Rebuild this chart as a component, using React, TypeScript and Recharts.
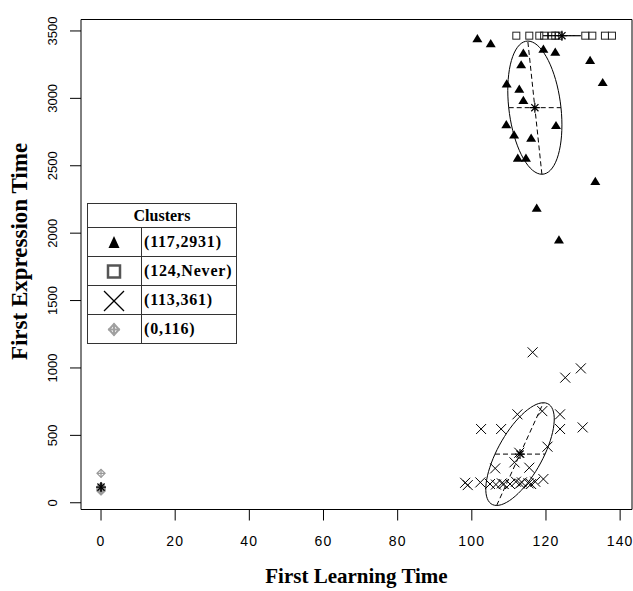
import React from 'react';
import {
  ScatterChart, Scatter, XAxis, YAxis, ReferenceArea, ReferenceLine, Legend,
} from 'recharts';

const xTicks = [0, 20, 40, 60, 80, 100, 120, 140];
const yTicks = [0, 500, 1000, 1500, 2000, 2500, 3000, 3500];
const xDomain = [-5.4, 143.2];
const yDomain = [-50, 3585];

const clusterLabels = ['(117,2931)', '(124,Never)', '(113,361)', '(0,116)'];

// cluster 1 - triangles
const triX = [101.5, 105.1, 113.9, 119.3, 122.5, 113.3, 131.9, 135.3, 109.4, 112.8,
  113.9, 109.3, 122.7, 111.4, 116.0, 112.4, 114.6, 133.3, 117.5, 123.5];
const triY = [3441, 3404, 3334, 3364, 3342, 3248, 3280, 3116, 3106, 3067,
  2983, 2803, 2797, 2728, 2704, 2555, 2555, 2382, 2184, 1949];

// cluster 2 - never expressed, drawn on the top line
const NEVER = 3465;
const sqX = [112.0, 115.5, 118.2, 119.5, 121.6, 122.5, 123.4, 130.6, 132.5, 135.9, 137.8];

// cluster 3 - crosses
const crossX = [116.4, 129.4, 125.2, 112.3, 119.0, 123.8, 102.5, 107.9, 123.8, 129.9,
  120.4, 112.8, 111.5, 106.3, 115.5, 98.2, 98.9, 102.3, 104.9, 108.1,
  110.3, 111.9, 113.5, 115.3, 117.1, 119.3, 108.6, 116.0, 106.5, 113.0];
const crossY = [1116, 997, 928, 656, 680, 656, 547, 547, 547, 559,
  416, 371, 300, 255, 260, 148, 131, 151, 139, 144,
  139, 156, 151, 144, 156, 176, 139, 139, 135, 142];

// cluster 4 - grey, all at x = 0
const grayX = [0, 0, 0, 0, 0, 0, 0, 0];
const grayY = [218, 120, 112, 105, 100, 95, 90, 88];

// cluster centres and ellipse half-axes (data units)
const centerX = [117, 124.3, 113, 0];
const centerY = [2931, NEVER, 361, 116];
const majorAxes = [[-1.9, 494], [5.1, 0], [6.3, 381], [0, 30]];
const minorAxes = [[7.05, 0], [0, 0], [6.75, 0], [0, 0]];

const toPts = (xs: number[], ys: number[]) => xs.map((x, i) => ({ x, y: ys[i] }));

const ellipse = (i: number) =>
  Array.from({ length: 73 }, (_, k) => {
    const t = (k * Math.PI * 2) / 72;
    return {
      x: centerX[i] + majorAxes[i][0] * Math.cos(t) + minorAxes[i][0] * Math.sin(t),
      y: centerY[i] + majorAxes[i][1] * Math.cos(t) + minorAxes[i][1] * Math.sin(t),
    };
  });

const Tri = ({ cx, cy }: any) => (
  <path d={`M${cx},${cy - 4.8} L${cx + 5},${cy + 3.4} L${cx - 5},${cy + 3.4} Z`} fill="#000" />
);
const Sq = ({ cx, cy }: any) => (
  <rect x={cx - 3.5} y={cy - 3.5} width={7} height={7} fill="none" stroke="#222" strokeWidth={1} />
);
const Cross = ({ cx, cy }: any) => (
  <g stroke="#000" strokeWidth={1}>
    <line x1={cx - 5} y1={cy - 5} x2={cx + 5} y2={cy + 5} />
    <line x1={cx - 5} y1={cy + 5} x2={cx + 5} y2={cy - 5} />
  </g>
);
const Gray = ({ cx, cy }: any) => (
  <g stroke="#9a9a9a" strokeWidth={1.3} fill="none">
    <path d={`M${cx},${cy - 4} L${cx + 4},${cy} L${cx},${cy + 4} L${cx - 4},${cy} Z`} />
    <line x1={cx - 4} y1={cy} x2={cx + 4} y2={cy} />
    <line x1={cx} y1={cy - 4} x2={cx} y2={cy + 4} />
  </g>
);
const Star = ({ cx, cy }: any) => (
  <g stroke="#000" strokeWidth={1.2}>
    <line x1={cx - 5} y1={cy} x2={cx + 5} y2={cy} />
    <line x1={cx} y1={cy - 5} x2={cx} y2={cy + 5} />
    <line x1={cx - 3.6} y1={cy - 3.6} x2={cx + 3.6} y2={cy + 3.6} />
    <line x1={cx - 3.6} y1={cy + 3.6} x2={cx + 3.6} y2={cy - 3.6} />
  </g>
);
const NoDot = () => <g />;

const legendIcons: Record<string, React.ReactNode> = {
  [clusterLabels[0]]: <path d="M26,7 L31.5,19 L20.5,19 Z" fill="#000" />,
  [clusterLabels[1]]: <rect x={20} y={7.5} width={12} height={12} fill="none" stroke="#555" strokeWidth={2.5} />,
  [clusterLabels[2]]: (
    <g stroke="#000" strokeWidth={1.3}>
      <line x1={16} y1={4} x2={36} y2={24} />
      <line x1={16} y1={24} x2={36} y2={4} />
    </g>
  ),
  [clusterLabels[3]]: (
    <g stroke="#a0a0a0" strokeWidth={2} fill="none">
      <path d="M26,8 L31,13.5 L26,19 L21,13.5 Z" />
      <line x1={20} y1={13.5} x2={32} y2={13.5} />
      <line x1={26} y1={7.5} x2={26} y2={19.5} />
    </g>
  ),
};

const cell = {
  border: '1px solid #333',
  padding: 0,
  height: 28,
};

// only the four clusters go in the key, in their plotting order
const renderLegend = ({ payload }: any) => {
  const names = (payload || []).map((p: any) => p.value);
  const rows = clusterLabels.filter((l) => names.includes(l));
  return (
    <table
      style={{
        borderCollapse: 'collapse',
        background: '#fff',
        fontFamily: '"Liberation Serif", "Times New Roman", serif',
        fontWeight: 'bold',
        fontSize: 16,
        color: '#000',
      }}
    >
      <tbody>
        <tr>
          <td colSpan={2} style={{ ...cell, height: 23, textAlign: 'center' }}>Clusters</td>
        </tr>
        {rows.map((name) => (
          <tr key={name}>
            <td style={{ ...cell, width: 53 }}>
              <svg width={53} height={27} style={{ display: 'block' }}>{legendIcons[name]}</svg>
            </td>
            <td style={{ ...cell, width: 92, paddingLeft: 2, letterSpacing: 0.8 }}>{name}</td>
          </tr>
        ))}
      </tbody>
    </table>
  );
};

const XTick = ({ x, y, payload }: any) => (
  <text x={x} y={y} dy="0.71em" textAnchor="middle" fontSize={14} letterSpacing={1.2}
    fontFamily='"Liberation Sans", Arial, sans-serif' fill="#000">
    {payload.value}
  </text>
);

const YTick = ({ x, y, payload }: any) => (
  <text x={x} y={y} transform={`rotate(-90, ${x}, ${y})`} textAnchor="middle" fontSize={13}
    fontFamily='"Liberation Sans", Arial, sans-serif' fill="#000">
    {payload.value}
  </text>
);

const titleFont = '"Liberation Serif", "Times New Roman", serif';

const xTitle = ({ viewBox }: any) => (
  <text x={viewBox.x + viewBox.width / 2} y={viewBox.y + viewBox.height - 7.7} textAnchor="middle"
    fontFamily={titleFont} fontWeight="bold" fontSize={21} fill="#000">
    First Learning Time
  </text>
);

const yTitle = ({ viewBox }: any) => {
  const cx = 27.3;
  const cy = viewBox.y + viewBox.height / 2 - 13;
  return (
    <text x={cx} y={cy} transform={`rotate(-90, ${cx}, ${cy})`} textAnchor="middle"
      fontFamily={titleFont} fontWeight="bold" fontSize={23} fill="#000">
      First Expression Time
    </text>
  );
};

const App = () => (
  <div style={{ position: 'absolute', left: 0, top: 0, background: '#fff' }}>
    <ScatterChart width={633} height={591} margin={{ top: 19.5, right: 1, bottom: 0, left: 0 }}>
      <XAxis type="number" dataKey="x" domain={xDomain} ticks={xTicks} interval={0} allowDataOverflow
        axisLine={false} tickLine={{ stroke: '#000' }} tickSize={11} tickMargin={16} height={81.5}
        tick={<XTick />} label={xTitle} />
      <YAxis type="number" dataKey="y" domain={yDomain} ticks={yTicks} interval={0} allowDataOverflow
        axisLine={false} tickLine={{ stroke: '#000' }} tickSize={11} tickMargin={13} width={81}
        tick={<YTick />} label={yTitle} />
      <ReferenceArea x1={xDomain[0]} x2={xDomain[1]} y1={yDomain[0]} y2={yDomain[1]}
        fill="none" stroke="#000" strokeWidth={1} fillOpacity={0} />

      <Scatter name={clusterLabels[0]} data={toPts(triX, triY)} fill="#000" shape={Tri} isAnimationActive={false} />
      <Scatter name={clusterLabels[1]} data={sqX.map((x) => ({ x, y: NEVER }))} fill="#222" shape={Sq} isAnimationActive={false} />
      <Scatter name={clusterLabels[2]} data={toPts(crossX, crossY)} fill="#000" shape={Cross} isAnimationActive={false} />
      <Scatter name={clusterLabels[3]} data={toPts(grayX, grayY)} fill="#9a9a9a" shape={Gray} isAnimationActive={false} />

      {centerX.map((_, i) => (
        <Scatter key={`ell-${i}`} data={ellipse(i)} shape={NoDot} line={{ stroke: '#000', strokeWidth: 1 }}
          lineType="joint" legendType="none" isAnimationActive={false} />
      ))}
      {[0, 2].flatMap((i) => [
        <ReferenceLine key={`maj-${i}`} stroke="#000" strokeDasharray="5 3"
          segment={[
            { x: centerX[i] - majorAxes[i][0], y: centerY[i] - majorAxes[i][1] },
            { x: centerX[i] + majorAxes[i][0], y: centerY[i] + majorAxes[i][1] },
          ]} />,
        <ReferenceLine key={`min-${i}`} stroke="#000" strokeDasharray="5 3"
          segment={[
            { x: centerX[i] - minorAxes[i][0], y: centerY[i] - minorAxes[i][1] },
            { x: centerX[i] + minorAxes[i][0], y: centerY[i] + minorAxes[i][1] },
          ]} />,
      ])}
      <Scatter data={toPts(centerX, centerY)} shape={Star} legendType="none" isAnimationActive={false} />

      <Legend layout="horizontal" verticalAlign="middle" align="center" content={renderLegend}
        wrapperStyle={{ left: 87, top: 203, width: 'auto', height: 'auto', bottom: 'auto' }} />
    </ScatterChart>
  </div>
);

export default App;
